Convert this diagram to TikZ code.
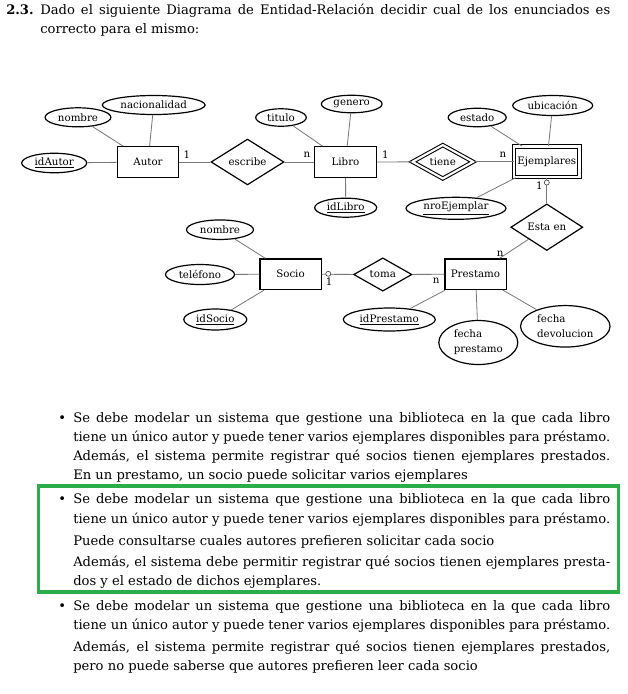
\documentclass[tikz,border=0pt]{standalone}
\usepackage{fontspec}
\setmainfont{DejaVu Serif}
\usetikzlibrary{shapes.geometric}
\definecolor{boxgreen}{HTML}{2BAE4A}
\definecolor{connc}{HTML}{777777}
\newcommand{\dfont}{\fontsize{7.7}{11.25}\selectfont}
\newcommand{\tfont}{\fontsize{9.85}{14}\selectfont}
\begin{document}
\begin{tikzpicture}[x=0.75pt,y=-0.75pt,
  ent/.style 2 args={draw, line width=0.9pt, inner sep=0pt,
    minimum width=#1*0.75pt, minimum height=#2*0.75pt, font=\dfont},
  went/.style 2 args={draw, line width=0.8pt, double, double distance=1.6pt, inner sep=0pt,
    minimum width=#1*0.75pt, minimum height=#2*0.75pt, font=\dfont},
  rel/.style 2 args={diamond, draw, line width=0.9pt, inner sep=0pt,
    minimum width=#1*0.75pt, minimum height=#2*0.75pt, font=\dfont},
  wrel/.style 2 args={diamond, draw, line width=0.8pt, double, double distance=1.6pt, inner sep=0pt,
    minimum width=#1*0.75pt, minimum height=#2*0.75pt, font=\dfont},
  attr/.style 2 args={ellipse, draw, line width=0.9pt, inner sep=0pt,
    minimum width=#1*0.75pt, minimum height=#2*0.75pt, font=\dfont},
  conn/.style={draw=connc, line width=0.6pt},
  card/.style={inner sep=0pt, font=\dfont},
  part/.style={circle, draw=black!70, line width=0.5pt, fill=white, inner sep=0pt, minimum size=5*0.75pt},
  txt/.style={anchor=base west, inner sep=0pt, font=\tfont},
]
\useasboundingbox[fill=white] (0,0) rectangle (628,694);

% ---------------- header
\node[txt, font=\tfont\bfseries] (num) at (6,14.5) {2.3.};
\node[txt] (h1) at (40,14.5) {\makebox[427.5pt][s]{Dado el siguiente Diagrama de Entidad-Relación decidir cual de los enunciados es}};
\node[txt] (h2) at (40,33.5) {correcto para el mismo:};

% ---------------- entities
\node[ent={61.5}{30.8}] (autor) at (148,162) {Autor};
\node[ent={61.5}{30.8}] (libro) at (345.5,162) {Libro};
\node[went={65.4}{30.7}] (ejem) at (546.8,161.8) {Ejemplares};
\node[ent={61.2}{30.5}] (socio) at (290.5,274.2) {Socio};
\node[ent={61.2}{30.5}] (prest) at (475.5,274.2) {Prestamo};

% ---------------- relationships
\node[rel={73}{35.5}] (escribe) at (247.5,162) {escribe};
\node[wrel={61}{30.3}] (tiene) at (442.8,161.8) {tiene};
\node[rel={72}{36}] (estaen) at (546.8,227.2) {Esta en};
\node[rel={58.4}{29.6}] (toma) at (382.8,274.5) {toma};

% ---------------- attributes
\node[attr={102.8}{19}] (nac) at (153.7,105) {nacionalidad};
\node[attr={65.8}{19}] (nomA) at (78,117.3) {nombre};
\node[attr={65}{19.5}] (idA) at (54.2,163) {\underline{idAutor}};
\node[attr={50.5}{17.5}] (tit) at (281,117.5) {titulo};
\node[attr={60.8}{17.5}] (gen) at (351.7,104) {genero};
\node[attr={62}{19}] (idL) at (345.7,207.7) {\underline{idLibro}};
\node[attr={58}{18.5}] (est) at (477.2,117.5) {estado};
\node[attr={80}{20}] (ubi) at (552.7,105.5) {ubicación};
\node[attr={100}{22}] (nroE) at (456,208.3) {\underline{nroEjemplar}};
\node[attr={67}{19.5}] (nomS) at (220,229.7) {nombre};
\node[attr={69}{20}] (tel) at (200,274.5) {teléfono};
\node[attr={63}{21}] (idS) at (215.3,319.5) {\underline{idSocio}};
\node[attr={92}{23}] (idP) at (389.3,319.5) {\underline{idPrestamo}};
\node[attr={79}{44}, align=left] (fprest) at (478.3,342.5) {fecha\\prestamo};
\node[attr={89.5}{41.5}, align=left] (fdev) at (565.3,326.3) {fecha\\devolucion};

% ---------------- attribute connectors
\draw[conn] (nac) -- (autor);
\draw[conn] (nomA) -- (autor);
\draw[conn] (idA) -- (autor);
\draw[conn] (tit) -- (libro);
\draw[conn] (gen) -- (libro);
\draw[conn] (idL) -- (libro);
\draw[conn] (est) -- (ejem);
\draw[conn] (ubi) -- (ejem);
\draw[conn] (nroE) -- (ejem);
\draw[conn] (nomS) -- (socio);
\draw[conn] (tel) -- (socio);
\draw[conn] (idS) -- (socio);
\draw[conn] (idP) -- (prest);
\draw[conn] (fprest) -- (prest);
\draw[conn] (fdev) -- (prest);

% ---------------- relationship connectors
\draw[conn] (autor) -- (escribe);
\draw[conn] (escribe) -- (libro);
\draw[conn] (libro) -- (tiene);
\draw[conn] (tiene) -- (ejem);
\draw[conn] (ejem) -- (estaen);
\draw[conn] (estaen) -- (prest);
\draw[conn] (socio) -- (toma);
\draw[conn] (toma) -- (prest);
\node[part] (p1) at (546.8,182.5) {};
\node[part] (p2) at (328.3,273.8) {};

% ---------------- cardinalities
\node[card] (c1) at (187,154.8) {1};
\node[card] (c2) at (307,155) {n};
\node[card] (c3) at (385.3,154.8) {1};
\node[card] (c4) at (503,155) {n};
\node[card] (c5) at (539.3,185.8) {1};
\node[card] (c6) at (500.3,253.3) {n};
\node[card] (c7) at (329.2,281.8) {1};
\node[card] (c8) at (436.2,280.3) {n};

% ---------------- statements
\node[txt] (b1) at (58,422) {•};
\node[txt] (b1l1) at (73,422) {\makebox[402.75pt][s]{Se debe modelar un sistema que gestione una biblioteca en la que cada libro}};
\node[txt] (b1l2) at (73,441) {\makebox[402.75pt][s]{tiene un único autor y puede tener varios ejemplares disponibles para préstamo.}};
\node[txt] (b1l3) at (73,460) {\makebox[402.75pt][s]{Además, el sistema permite registrar qué socios tienen ejemplares prestados.}};
\node[txt] (b1l4) at (73,479) {En un prestamo, un socio puede solicitar varios ejemplares};

\node[draw=boxgreen, line width=2.3pt, minimum width=580*0.75pt, minimum height=106*0.75pt, inner sep=0pt] (green) at (328.5,539) {};
\node[txt] (b2) at (58,503) {•};
\node[txt] (b2l1) at (73,503) {\makebox[402.75pt][s]{Se debe modelar un sistema que gestione una biblioteca en la que cada libro}};
\node[txt] (b2l2) at (73,523) {\makebox[402.75pt][s]{tiene un único autor y puede tener varios ejemplares disponibles para préstamo.}};
\node[txt] (b2l3) at (73,545) {Puede consultarse cuales autores prefieren solicitar cada socio};
\node[txt] (b2l4) at (73,566) {\makebox[402.75pt][s]{Además, el sistema debe permitir registrar qué socios tienen ejemplares presta-}};
\node[txt] (b2l5) at (73,585) {dos y el estado de dichos ejemplares.};

\node[txt] (b3) at (58,610) {•};
\node[txt] (b3l1) at (73,610) {\makebox[402.75pt][s]{Se debe modelar un sistema que gestione una biblioteca en la que cada libro}};
\node[txt] (b3l2) at (73,629) {\makebox[402.75pt][s]{tiene un único autor y puede tener varios ejemplares disponibles para préstamo.}};
\node[txt] (b3l3) at (73,651) {\makebox[402.75pt][s]{Además, el sistema permite registrar qué socios tienen ejemplares prestados,}};
\node[txt] (b3l4) at (73,670) {pero no puede saberse que autores prefieren leer cada socio};
\end{tikzpicture}
\end{document}
